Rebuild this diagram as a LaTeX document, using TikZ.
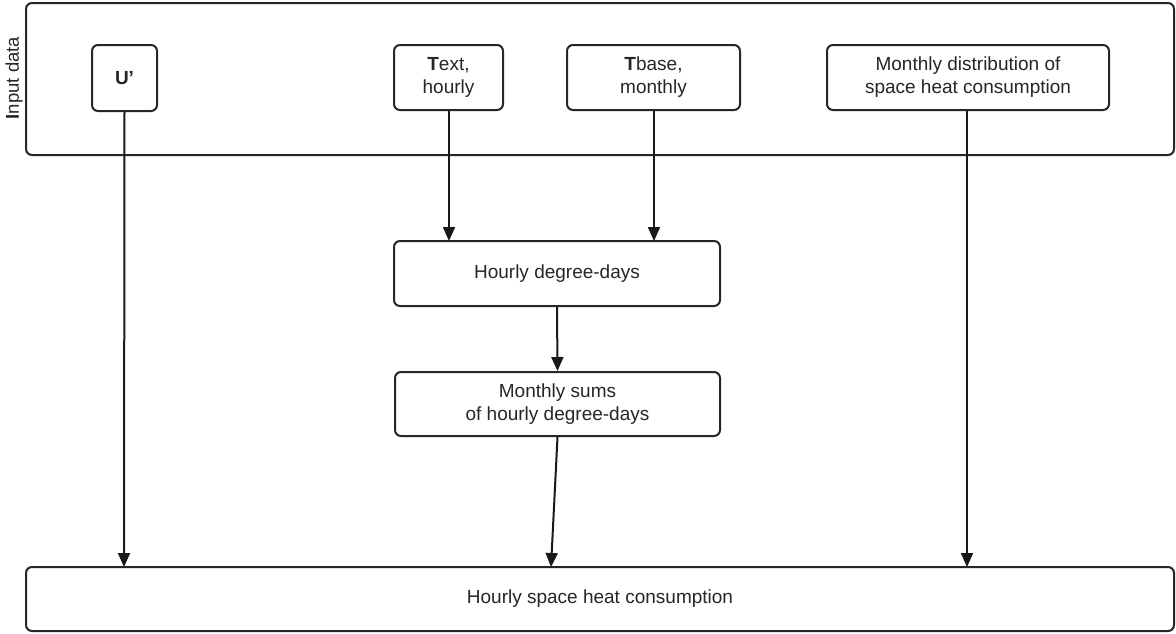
\documentclass[tikz,border=0pt]{standalone}
\usepackage{fontspec}
\setmainfont{Liberation Sans}
\usetikzlibrary{arrows.meta}
\tikzset{
  box/.style={draw=black!85, line width=2pt, rounded corners=6pt, fill=white, inner sep=0pt, align=center, text=black!85, font=\fontsize{19}{23}\selectfont},
  conn/.style={draw=black!90, line width=2pt, -{Triangle[length=14pt,width=12pt]}}
}
\begin{document}
\begin{tikzpicture}[x=1pt,y=-1pt]
\useasboundingbox (0,0) rectangle (1176,633);
% outer input box
\node[box, minimum width=1148pt, minimum height=152pt] (input) at (600,79) {};
\node[rotate=90, text=black!85, font=\fontsize{18.5}{22}\selectfont] (inlabel) at (14,78) {\textbf{I}nput data};
% input nodes
\node[box, minimum width=65pt, minimum height=66pt] (u) at (124.5,78) {\textbf{U’}};
\node[box, minimum width=109pt, minimum height=65pt] (text) at (448.5,77.5) {\textbf{T}ext,\\hourly};
\node[box, minimum width=173pt, minimum height=65pt] (tbase) at (653.5,77.5) {\textbf{T}base,\\monthly};
\node[box, minimum width=282pt, minimum height=65pt] (dist) at (968,77.5) {Monthly distribution of\\space heat consumption};
% processing nodes
\node[box, minimum width=326pt, minimum height=65pt] (hdd) at (557,273.5) {Hourly degree-days};
\node[box, minimum width=325pt, minimum height=64pt] (msum) at (557.5,404) {Monthly sums\\of hourly degree-days};
\node[box, minimum width=1148pt, minimum height=64pt] (out) at (600,599) {Hourly space heat consumption};
% connectors
\coordinate (uo) at (124,567);
\coordinate (to) at (449,241);
\coordinate (bo) at (654,241);
\coordinate (do) at (967,567);
\draw[conn] (u.south) -- (uo);
\draw[conn] (text.south -| to) -- (to);
\draw[conn] (tbase.south -| bo) -- (bo);
\draw[conn] (dist.south -| do) -- (do);
\draw[conn] (hdd.south) -- (msum.north);
\coordinate (mo) at (551,567);
\draw[conn] (msum.south) -- (mo);
\end{tikzpicture}
\end{document}
